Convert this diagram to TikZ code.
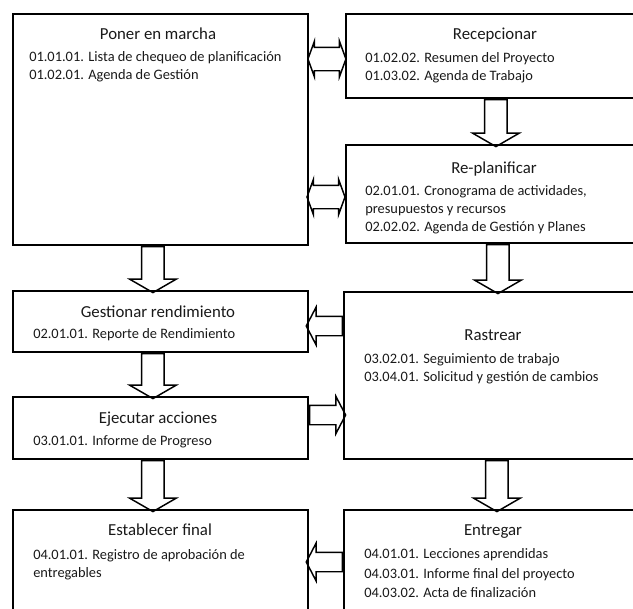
\documentclass[tikz,border=0pt]{standalone}
\usepackage{fontspec}
\setmainfont{Carlito}
\usetikzlibrary{shapes.arrows,calc}

\tikzset{
  box/.style={draw, line width=1.4pt, anchor=north west, inner sep=0pt},
  title/.style={anchor=base, inner sep=0pt, text=black!90, font=\fontsize{12.6}{15}\selectfont},
  item/.style={anchor=base west, inner sep=0pt, text=black!90, font=\fontsize{10.8}{13}\selectfont},
  arr/.style={draw, line width=1.1pt, inner sep=0pt, minimum width=0pt, text depth=0pt},
  downarr/.style={arr, single arrow, anchor=tail, rotate=-90, text height=15.75pt,
    single arrow head extend=9pt, single arrow tip angle=120, single arrow head indent=0pt},
  sidearr/.style={arr, single arrow, anchor=tail, minimum height=27pt, text height=13.5pt,
    single arrow head extend=6.75pt, single arrow tip angle=125, single arrow head indent=0pt},
  botharr/.style={arr, double arrow, minimum height=28.5pt, text height=16.5pt,
    double arrow head extend=4.5pt, double arrow tip angle=140, double arrow head indent=0pt}
}

\begin{document}
\begin{tikzpicture}[x=0.75pt,y=-0.75pt]
  \useasboundingbox (0,0) rectangle (633,608);
  \clip (0,0) rectangle (633,608);
  % Boxes
  \node[box, minimum width=221.25pt, minimum height=173.25pt] (march) at (12,13) {};
  \node[box, minimum width=222pt, minimum height=63pt] (recep) at (345,13) {};
  \node[box, minimum width=222pt, minimum height=73.5pt] (replan) at (345,144) {};
  \node[box, minimum width=221.25pt, minimum height=45.75pt] (gest) at (12,290) {};
  \node[box, minimum width=221.25pt, minimum height=46.5pt] (ejec) at (12,396) {};
  \node[box, minimum width=221.25pt, minimum height=105pt] (estab) at (12,509) {};
  \node[box, minimum width=223.5pt, minimum height=125.25pt] (rastr) at (343,291) {};
  \node[box, minimum width=223.5pt, minimum height=105pt] (entr) at (343,509) {};
  % Titles
  \node[title] (marchT) at (158,39) {Poner en marcha};
  \node[title] (recepT) at (495,39) {Recepcionar};
  \node[title] (replanT) at (494,173) {Re-planificar};
  \node[title] (gestT) at (158,317) {Gestionar rendimiento};
  \node[title] (ejecT) at (158,423) {Ejecutar acciones};
  \node[title] (estabT) at (160,535) {Establecer final};
  \node[title] (rastrT) at (493,340) {Rastrear};
  \node[title] (entrT) at (493,535) {Entregar};
  % Deliverables
  \node[item] (march1) at (29,61) {01.01.01. Lista de chequeo de planificación};
  \node[item] (march2) at (29,79) {01.02.01. Agenda de Gestión};
  \node[item] (recep1) at (365,62) {01.02.02. Resumen del Proyecto};
  \node[item] (recep2) at (365,80) {01.03.02. Agenda de Trabajo};
  \node[item] (replan1) at (365,195) {02.01.01. Cronograma de actividades,};
  \node[item] (replan2) at (365,213) {presupuestos y recursos};
  \node[item] (replan3) at (365,231) {02.02.02. Agenda de Gestión y Planes};
  \node[item] (gest1) at (33,338) {02.01.01. Reporte de Rendimiento};
  \node[item] (ejec1) at (33,445) {03.01.01. Informe de Progreso};
  \node[item] (estab1) at (33,559) {04.01.01. Registro de aprobación de};
  \node[item] (estab2) at (33,577) {entregables};
  \node[item] (rastr1) at (364,363) {03.02.01. Seguimiento de trabajo};
  \node[item] (rastr2) at (364,381) {03.04.01. Solicitud y gestión de cambios};
  \node[item] (entr1) at (364,558) {04.01.01. Lecciones aprendidas};
  \node[item] (entr2) at (364,578) {04.03.01. Informe final del proyecto};
  \node[item] (entr3) at (364,597) {04.03.02. Acta de finalización};
  % Block arrows down
  \node[downarr, minimum height=34.5pt] (a2d) at ($(march.south)+(-7.5,0)$) {};
  \node[downarr, minimum height=33.75pt] (d2e) at ($(gest.south)+(-7.5,0)$) {};
  \node[downarr, minimum height=38.25pt] (e2f) at ($(ejec.south)+(-7.5,0)$) {};
  \node[downarr, minimum height=35.25pt] (b2c) at ($(recep.south)+(2,0)$) {};
  \node[downarr, minimum height=36.75pt] (c2g) at ($(replan.south)+(4,0)$) {};
  \node[downarr, minimum height=38.25pt] (g2h) at ($(rastr.south)+(4,0)$) {};
  % Block arrows sideways
  \node[sidearr, rotate=180] (g2d) at ($(rastr.north west)+(0,35)$) {};
  \node[sidearr] (e2g) at ($(ejec.north east)+(0,19)$) {};
  \node[sidearr, rotate=180] (h2f) at ($(entr.north west)+(0,53)$) {};
  \node[botharr] (a2b) at ($(march.north east)!.5!(recep.north west)+(0,46)$) {};
  \node[botharr] (a2c) at ($(replan.north west)+(-19,53)$) {};
\end{tikzpicture}
\end{document}
